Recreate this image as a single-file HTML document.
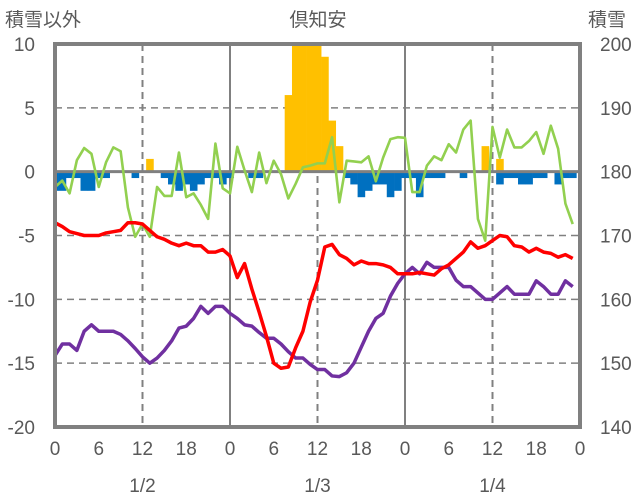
<!DOCTYPE html>
<html><head><meta charset="utf-8"><style>
html,body{margin:0;padding:0;background:#fff;}
svg{display:block;}
text{font-family:"Liberation Sans","Noto Sans CJK JP",sans-serif;fill:#595959;}
</style></head><body>
<svg id="chart" width="636" height="501" viewBox="0 0 636 501" xmlns="http://www.w3.org/2000/svg">
<defs><clipPath id="plotclip"><rect x="55" y="44" width="525" height="383"/></clipPath></defs>
<text x="5" y="26" font-size="19">積雪以外</text>
<text x="318" y="26" font-size="19" text-anchor="middle">倶知安</text>
<text x="588" y="26" font-size="19">積雪</text>
<g id="grid"></g>
<g id="bars" clip-path="url(#plotclip)"></g>
<g id="lines" clip-path="url(#plotclip)"></g>
<g id="axes"></g>
</svg>
<script>
const leftTicks=[10,5,0,-5,-10,-15,-20];
const rightTicks=[200,190,180,170,160,150,140];
const xTickLabels=["0","6","12","18","0","6","12","18","0","6","12","18","0"];
const dateLabels=["1/2","1/3","1/4"];
const orangeBars=[0,0,0,0,0,0,0,0,0,0,0,0,0,1,0,0,0,0,0,0,0,0,0,0,0,0,0,0,0,0,0,0,6,10,10,10,10,9,4,2,0,0,0,0,0,0,0,0,0,0,0,0,0,0,0,0,0,0,0,2,0,1,0,0,0,0,0,0,0,0,0,0];
const blueBars=[-1.5,-1.5,-0.5,-0.5,-1.5,-1.5,-0.5,-0.5,0,0,0,-0.5,0,0,0,-0.5,-1,-1.5,-1,-1.5,-1,-0.5,-0.5,-1,-0.5,0,0,-0.5,-0.5,0,0,0,0,0,0,0,0,0,0,0,-0.5,-1,-2,-1.5,-1,-1,-2,-1.5,-0.5,-0.5,-2,-0.5,-0.5,-0.5,0,0,-0.5,0,0,0,0,-1,-0.5,-0.5,-1,-1,-0.5,-0.5,0,-1,-0.5,-0.5];
const greenLine=[-1.2,-0.7,-1.7,0.9,1.85,1.4,-1.2,0.73,1.9,1.6,-2.8,-5.1,-4.1,-5.1,-1.2,-1.9,-1.9,1.5,-2.0,-1.7,-2.6,-3.7,2.2,-1.3,-1.7,1.95,0.1,-1.6,1.5,-0.9,0.86,-0.2,-2.1,-0.95,0.34,0.47,0.65,0.65,2.7,-2.4,0.86,0.8,0.73,1.2,-0.75,1.1,2.55,2.7,2.65,-1.6,-1.6,0.47,1.2,0.9,2.15,1.5,3.3,4.0,-3.7,-5.4,3.5,1.1,3.3,1.9,1.9,2.4,3.1,1.4,3.6,1.8,-2.5,-4.1];
const redLine=[-4.0,-4.3,-4.7,-4.85,-5.0,-5.0,-5.0,-4.8,-4.7,-4.6,-4.0,-4.0,-4.1,-4.6,-5.1,-5.3,-5.6,-5.8,-5.6,-5.8,-5.8,-6.3,-6.3,-6.1,-6.6,-8.3,-7.2,-9.2,-11.0,-12.9,-15.0,-15.4,-15.3,-13.8,-12.5,-10.2,-8.5,-5.9,-5.7,-6.5,-6.8,-7.3,-7.0,-7.2,-7.2,-7.3,-7.5,-8.0,-8.0,-8.0,-7.9,-8.0,-8.1,-7.6,-7.3,-6.8,-6.3,-5.5,-6.0,-5.8,-5.4,-5.0,-5.1,-5.8,-5.9,-6.3,-6.0,-6.3,-6.4,-6.7,-6.5,-6.8];
const snowDepth=[151.2,153,153,152,155,156,155,155,155,154.5,153.5,152.3,151,150,150.8,152,153.5,155.5,155.8,157,158.9,157.8,158.9,158.9,157.8,157,156,155.8,154.8,153.9,153.9,153,151.8,150.8,150.8,149.8,149,149,148,147.9,148.5,150,152.5,155,157,157.8,160.5,162.5,164,165,164,165.8,165,165,165,163,162,162,161,160,160,161,162,160.8,160.8,160.8,162.9,162,160.8,160.8,162.9,162];

const L=55,R=580,T=44,B=427,HOURS=72;
const NS="http://www.w3.org/2000/svg";
const xS=h=>L+h*(R-L)/HOURS;
const yL=v=>T+(10-v)*(B-T)/30;
const yR=v=>T+(200-v)*(B-T)/60;
function mk(tag,attrs,parent){const e=document.createElementNS(NS,tag);for(const k in attrs)e.setAttribute(k,attrs[k]);parent.appendChild(e);return e;}
const grid=document.getElementById('grid'),bars=document.getElementById('bars'),lines=document.getElementById('lines'),axes=document.getElementById('axes');

leftTicks.forEach(v=>{
  if(v!==10&&v!==-20&&v!==0){
    const g=mk('line',{x1:L,x2:R,y1:yL(v),y2:yL(v),stroke:'#808080','stroke-width':1.5,'stroke-dasharray':'7,5'},grid);
    
    
  }
  const t=mk('text',{x:35,y:yL(v)+7,'font-size':19,'text-anchor':'end'},axes);
  t.textContent=String(v);
  
  
});
rightTicks.forEach(v=>{
  const t=mk('text',{x:600,y:yR(v)+7,'font-size':19},axes);
  t.textContent=String(v);
  
  
});
for(let i=1;i<6;i++){
  const h=i*12;
  const solid=(h%24===0);
  const g=mk('line',{x1:xS(h),x2:xS(h),y1:T,y2:B,stroke:'#808080','stroke-width':solid?2:2,'stroke-dasharray':solid?'none':'7,5'},grid);
  
  
}
xTickLabels.forEach((s,i)=>{
  const t=mk('text',{x:xS(i*6),y:455,'font-size':19,'text-anchor':'middle'},axes);
  t.textContent=s;
  
  
});
dateLabels.forEach((s,i)=>{
  const t=mk('text',{x:xS(12+i*24),y:492,'font-size':19,'text-anchor':'middle'},axes);
  t.textContent=s;
  
  
});

const bw=(R-L)/HOURS;
orangeBars.forEach((v,i)=>{
  if(!v)return;
  const r=mk('rect',{x:xS(i)-bw/2,y:yL(v),width:bw+0.3,height:yL(0)-yL(v),fill:'#FFC000'},bars);
  
  
});
blueBars.forEach((v,i)=>{
  if(!v)return;
  const r=mk('rect',{x:xS(i)-bw/2,y:yL(0),width:bw+0.3,height:yL(v)-yL(0),fill:'#0070C0'},bars);
  
  
});
const zl=mk('line',{x1:L,x2:R,y1:yL(0),y2:yL(0),stroke:'#808080','stroke-width':3},bars);



function poly(arr,yf,color,w,name){
  const p=mk('polyline',{points:arr.map((v,i)=>xS(i)+','+yf(v)).join(' '),fill:'none',stroke:color,'stroke-width':w,'stroke-linejoin':'round'},lines);
  
  
}
poly(greenLine,yL,'#92D050',2.6,'green-line');
poly(snowDepth,yR,'#7030A0',3.5,'snow-depth-line');
poly(redLine,yL,'#FF0000',3.5,'temperature-line');

const fr=mk('rect',{x:L,y:T,width:R-L,height:B-T,fill:'none',stroke:'#808080','stroke-width':4},axes);


</script>
</body></html>
